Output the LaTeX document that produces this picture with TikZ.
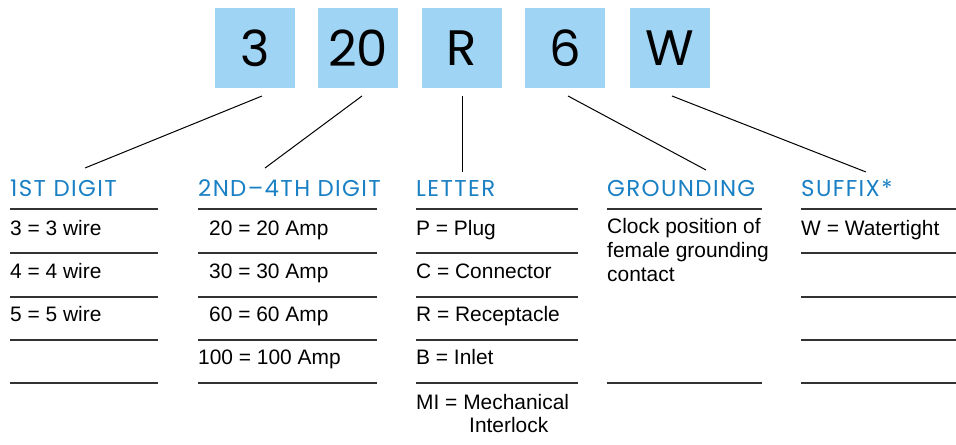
\documentclass[tikz,border=0pt]{standalone}
\usepackage{fontspec}
\setmainfont{Liberation Sans}
\newfontfamily\geofont{Poppins}
\newfontfamily\geoheadfont[LetterSpace=6]{Poppins}
\definecolor{boxblue}{HTML}{A0D4F4}
\definecolor{headblue}{HTML}{1A80C4}
\definecolor{rulegray}{HTML}{333333}
\begin{document}
\begin{tikzpicture}[x=1bp,y=-1bp,
  digitbox/.style={fill=boxblue,minimum width=80bp,minimum height=80bp,inner sep=0,font=\geofont\fontsize{50}{50}\selectfont,text=black},
  head/.style={anchor=base west,inner sep=0,text=headblue,font=\geoheadfont\fontsize{23}{23}\selectfont},
  body/.style={anchor=base west,inner sep=0,font=\fontsize{21}{24}\selectfont,align=left},
  rule/.style={draw=rulegray,line width=1.1bp},
  conn/.style={draw=black,line width=1bp}]
\useasboundingbox (0,0) rectangle (956,445);
% boxes
\node[digitbox] (b1) at (255,48) {3};
\node[digitbox] (b2) at (358,48) {20};
\node[digitbox] (b3) at (462,48) {R};
\node[digitbox] (b4) at (565,48) {6};
\node[digitbox] (b5) at (670,48) {W};
% connector end points
\coordinate (s1) at (262,96); \coordinate (e1) at (85,168);
\coordinate (s2) at (362,96); \coordinate (e2) at (265,168);
\coordinate (s3) at (462,96); \coordinate (e3) at (462,172);
\coordinate (s4) at (568,96); \coordinate (e4) at (706,170);
\coordinate (s5) at (672,96); \coordinate (e5) at (866,172);
\foreach \i in {1,...,5} {\draw[conn] (s\i) -- (e\i);}
% headings
\node[head] (h1) at (10,197) {1ST DIGIT};
\node[head] (h2) at (198,197) {2ND–4TH DIGIT};
\node[head] (h3) at (416,197) {LETTER};
\node[head] (h4) at (607,197) {GROUNDING};
\node[head] (h5) at (801,197) {SUFFIX*};
% rules
\foreach \y in {209,253,297,340,383} {
  \draw[rule] (10,\y) -- (158,\y);
  \draw[rule] (198,\y) -- (377,\y);
  \draw[rule] (416,\y) -- (578,\y);
  \draw[rule] (801,\y) -- (956,\y);
}
\draw[rule] (607,209) -- (762,209);
\draw[rule] (607,383) -- (762,383);
% column 1
\node[body] (c11) at (10,236) {3 = 3 wire};
\node[body] (c12) at (10,279) {4 = 4 wire};
\node[body] (c13) at (10,322) {5 = 5 wire};
% column 2
\node[body] (c21) at (209,236) {20 = 20 Amp};
\node[body] (c22) at (209,279) {30 = 30 Amp};
\node[body] (c23) at (209,322) {60 = 60 Amp};
\node[body] (c24) at (198,365) {100 = 100 Amp};
% column 3
\node[body] (c31) at (416,236) {P = Plug};
\node[body] (c32) at (416,279) {C = Connector};
\node[body] (c33) at (416,322) {R = Receptacle};
\node[body] (c34) at (416,365) {B = Inlet};
\node[body] (c35) at (416,409) {MI = Mechanical};
\node[body] (c36) at (469,432) {Interlock};
% column 4
\node[body,anchor=north west] (c41) at (607,218) {Clock position of\\female grounding\\contact};
% column 5
\node[body] (c51) at (801,236) {W = Watertight};
\end{tikzpicture}
\end{document}
